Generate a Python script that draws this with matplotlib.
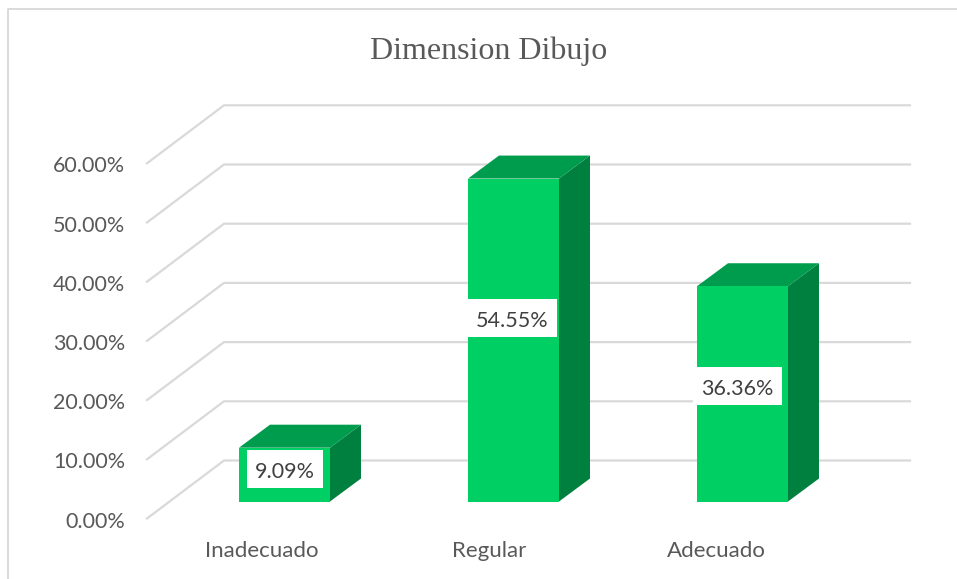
import matplotlib
matplotlib.use("Agg")
import matplotlib.pyplot as plt
from matplotlib.patches import Polygon, Rectangle

categories = ["Inadecuado", "Regular", "Adecuado"]
values = [9.09, 54.55, 36.36]
labels = ["9.09%", "54.55%", "36.36%"]
ticks = [0, 10, 20, 30, 40, 50, 60]
tick_labels = ["0.00%", "10.00%", "20.00%", "30.00%", "40.00%", "50.00%", "60.00%"]

W, H = 957, 579
fig = plt.figure(figsize=(W/100, H/100), dpi=100)
fig.patch.set_facecolor("white")
ax = fig.add_axes([0, 0, 1, 1])
ax.set_xlim(0, W)
ax.set_ylim(H, 0)
ax.axis("off")

# frame
ax.plot([8, 8, 957], [579, 9, 9], color="#d4d4d4", lw=1.2)

# projection of the value scale into pixels
y0 = 501.5
unit = 5.92
dx, dy = 31, 23
def py(v):
    return y0 - v * unit

# wall and floor gridlines
for t in ticks:
    y = py(t)
    ax.plot([147, 224, 910], [y + 17, y - 41, y - 41], color="#d9d9d9", lw=1.6, solid_joinstyle="miter")

# bars
lefts = [239, 468, 697]
bw = 91
for x, v in zip(lefts, values):
    top = py(v)
    ax.add_patch(Polygon([(x + bw, top), (x + bw + dx, top - dy), (x + bw + dx, y0 - dy), (x + bw, y0)], fc="#00803f", ec="none", zorder=3))
    ax.add_patch(Polygon([(x, top), (x + dx, top - dy), (x + bw + dx, top - dy), (x + bw, top)], fc="#009c4d", ec="none", zorder=3))
    ax.add_patch(Rectangle((x, top), bw, v * unit, fc="#00cf64", ec="none", zorder=3))

# data labels with white boxes
label_x = [285, 512.5, 737.5]
label_y = [469, 318, 386]
label_w = [76, 89, 89]
for x, y, w, lab in zip(label_x, label_y, label_w, labels):
    ax.add_patch(Rectangle((x - w / 2, y - 19), w, 38, fc="white", ec="none", zorder=4))
    ax.text(x, y + 3, lab, ha="center", va="center", fontsize=15.5, family="Lato", color="#404040", zorder=5)

# axis labels
for t, lab in zip(ticks, tick_labels):
    ax.text(125, py(t) + 20, lab, ha="right", va="center", fontsize=15.5, family="Lato", color="#595959")
for x, c in zip([261.5, 489, 716.5], categories):
    ax.text(x, 551, c, ha="center", va="center", fontsize=16, family="Lato", color="#595959")

ax.text(489, 51, "Dimension Dibujo", ha="center", va="center", fontsize=23, family="Liberation Serif", color="#595959")

fig.savefig("out.png", dpi=100)
